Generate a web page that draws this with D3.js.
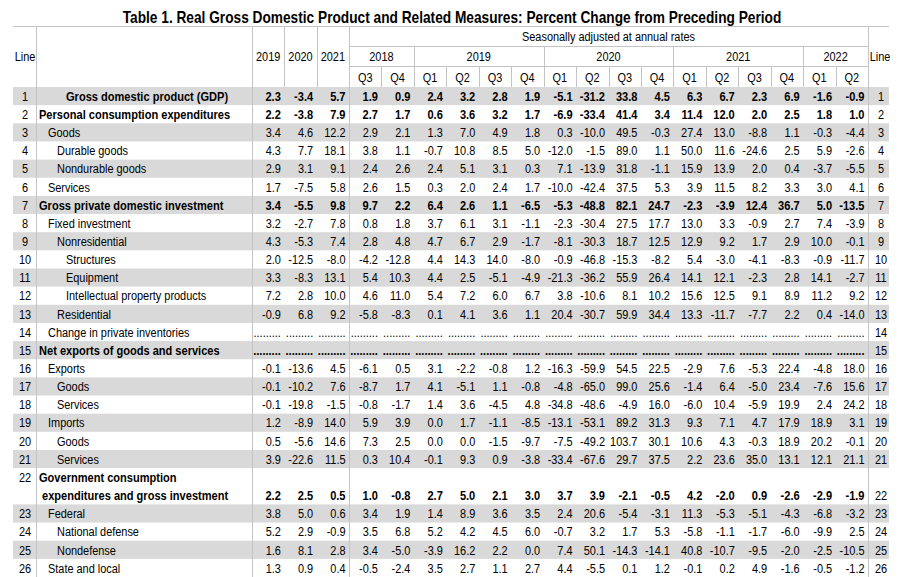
<!DOCTYPE html>
<html>
<head>
<meta charset="utf-8">
<script src="https://cdn.jsdelivr.net/npm/d3@7"></script>
<style>
    body { margin: 0; background: #fff; }
    svg { display: block; }
    text { font-family: "Liberation Sans Narrow", "Arial Narrow", "Liberation Sans", Arial, sans-serif; fill: #000; }
</style>
</head>
<body>
<div id="container"></div>
<script>
// begin data //

const titleText = 'Table 1. Real Gross Domestic Product and Related Measures: Percent Change from Preceding Period'
const subHeader = 'Seasonally adjusted at annual rates'

const annualYears = ['2019', '2020', '2021']
const quarterYears = ['2018', '2019', '2020', '2021', '2022']
const quarterPeriods = [
    '2018 Q3', '2018 Q4',
    '2019 Q1', '2019 Q2', '2019 Q3', '2019 Q4',
    '2020 Q1', '2020 Q2', '2020 Q3', '2020 Q4',
    '2021 Q1', '2021 Q2', '2021 Q3', '2021 Q4',
    '2022 Q1', '2022 Q2'
]

const rowLabels = [
    'Gross domestic product (GDP)',
    'Personal consumption expenditures',
    'Goods',
    'Durable goods',
    'Nondurable goods',
    'Services',
    'Gross private domestic investment',
    'Fixed investment',
    'Nonresidential',
    'Structures',
    'Equipment',
    'Intellectual property products',
    'Residential',
    'Change in private inventories',
    'Net exports of goods and services',
    'Exports',
    'Goods',
    'Services',
    'Imports',
    'Goods',
    'Services',
    ['Government consumption', 'expenditures and gross investment'],
    'Federal',
    'National defense',
    'Nondefense',
    'State and local'
]

// indent level of each label
const rowIndent = [3, 0, 1, 2, 2, 1, 0, 1, 2, 3, 3, 3, 2, 1, 0, 1, 2, 2, 1, 2, 2, 0, 1, 2, 2, 1]

const boldLines = [1, 2, 7, 15, 22]

const annualValues = [
    [2.3, -3.4, 5.7],
    [2.2, -3.8, 7.9],
    [3.4, 4.6, 12.2],
    [4.3, 7.7, 18.1],
    [2.9, 3.1, 9.1],
    [1.7, -7.5, 5.8],
    [3.4, -5.5, 9.8],
    [3.2, -2.7, 7.8],
    [4.3, -5.3, 7.4],
    [2.0, -12.5, -8.0],
    [3.3, -8.3, 13.1],
    [7.2, 2.8, 10.0],
    [-0.9, 6.8, 9.2],
    null,
    null,
    [-0.1, -13.6, 4.5],
    [-0.1, -10.2, 7.6],
    [-0.1, -19.8, -1.5],
    [1.2, -8.9, 14.0],
    [0.5, -5.6, 14.6],
    [3.9, -22.6, 11.5],
    [2.2, 2.5, 0.5],
    [3.8, 5.0, 0.6],
    [5.2, 2.9, -0.9],
    [1.6, 8.1, 2.8],
    [1.3, 0.9, 0.4]
]

const quarterValues = [
    [1.9, 0.9, 2.4, 3.2, 2.8, 1.9, -5.1, -31.2, 33.8, 4.5, 6.3, 6.7, 2.3, 6.9, -1.6, -0.9],
    [2.7, 1.7, 0.6, 3.6, 3.2, 1.7, -6.9, -33.4, 41.4, 3.4, 11.4, 12.0, 2.0, 2.5, 1.8, 1.0],
    [2.9, 2.1, 1.3, 7.0, 4.9, 1.8, 0.3, -10.0, 49.5, -0.3, 27.4, 13.0, -8.8, 1.1, -0.3, -4.4],
    [3.8, 1.1, -0.7, 10.8, 8.5, 5.0, -12.0, -1.5, 89.0, 1.1, 50.0, 11.6, -24.6, 2.5, 5.9, -2.6],
    [2.4, 2.6, 2.4, 5.1, 3.1, 0.3, 7.1, -13.9, 31.8, -1.1, 15.9, 13.9, 2.0, 0.4, -3.7, -5.5],
    [2.6, 1.5, 0.3, 2.0, 2.4, 1.7, -10.0, -42.4, 37.5, 5.3, 3.9, 11.5, 8.2, 3.3, 3.0, 4.1],
    [9.7, 2.2, 6.4, 2.6, 1.1, -6.5, -5.3, -48.8, 82.1, 24.7, -2.3, -3.9, 12.4, 36.7, 5.0, -13.5],
    [0.8, 1.8, 3.7, 6.1, 3.1, -1.1, -2.3, -30.4, 27.5, 17.7, 13.0, 3.3, -0.9, 2.7, 7.4, -3.9],
    [2.8, 4.8, 4.7, 6.7, 2.9, -1.7, -8.1, -30.3, 18.7, 12.5, 12.9, 9.2, 1.7, 2.9, 10.0, -0.1],
    [-4.2, -12.8, 4.4, 14.3, 14.0, -8.0, -0.9, -46.8, -15.3, -8.2, 5.4, -3.0, -4.1, -8.3, -0.9, -11.7],
    [5.4, 10.3, 4.4, 2.5, -5.1, -4.9, -21.3, -36.2, 55.9, 26.4, 14.1, 12.1, -2.3, 2.8, 14.1, -2.7],
    [4.6, 11.0, 5.4, 7.2, 6.0, 6.7, 3.8, -10.6, 8.1, 10.2, 15.6, 12.5, 9.1, 8.9, 11.2, 9.2],
    [-5.8, -8.3, 0.1, 4.1, 3.6, 1.1, 20.4, -30.7, 59.9, 34.4, 13.3, -11.7, -7.7, 2.2, 0.4, -14.0],
    null,
    null,
    [-6.1, 0.5, 3.1, -2.2, -0.8, 1.2, -16.3, -59.9, 54.5, 22.5, -2.9, 7.6, -5.3, 22.4, -4.8, 18.0],
    [-8.7, 1.7, 4.1, -5.1, 1.1, -0.8, -4.8, -65.0, 99.0, 25.6, -1.4, 6.4, -5.0, 23.4, -7.6, 15.6],
    [-0.8, -1.7, 1.4, 3.6, -4.5, 4.8, -34.8, -48.6, -4.9, 16.0, -6.0, 10.4, -5.9, 19.9, 2.4, 24.2],
    [5.9, 3.9, 0.0, 1.7, -1.1, -8.5, -13.1, -53.1, 89.2, 31.3, 9.3, 7.1, 4.7, 17.9, 18.9, 3.1],
    [7.3, 2.5, 0.0, 0.0, -1.5, -9.7, -7.5, -49.2, 103.7, 30.1, 10.6, 4.3, -0.3, 18.9, 20.2, -0.1],
    [0.3, 10.4, -0.1, 9.3, 0.9, -3.8, -33.4, -67.6, 29.7, 37.5, 2.2, 23.6, 35.0, 13.1, 12.1, 21.1],
    [1.0, -0.8, 2.7, 5.0, 2.1, 3.0, 3.7, 3.9, -2.1, -0.5, 4.2, -2.0, 0.9, -2.6, -2.9, -1.9],
    [3.4, 1.9, 1.4, 8.9, 3.6, 3.5, 2.4, 20.6, -5.4, -3.1, 11.3, -5.3, -5.1, -4.3, -6.8, -3.2],
    [3.5, 6.8, 5.2, 4.2, 4.5, 6.0, -0.7, 3.2, 1.7, 5.3, -5.8, -1.1, -1.7, -6.0, -9.9, 2.5],
    [3.4, -5.0, -3.9, 16.2, 2.2, 0.0, 7.4, 50.1, -14.3, -14.1, 40.8, -10.7, -9.5, -2.0, -2.5, -10.5],
    [-0.5, -2.4, 3.5, 2.7, 1.1, 2.7, 4.4, -5.5, 0.1, 1.2, -0.1, 0.2, 4.9, -1.6, -0.5, -1.2]
]

// end data //

const width = 905
const height = 577

const left = 13
const right = 889
const lineColRight = 36
const labelColRight = 252
const quarterLeft = 349
const quarterRight = 868

const tableTop = 26
const headerBottom = 87
const gridColor = '#c4c4c4'
const shadeColor = '#d9d9d9'
const fontSize = 13.5
// no narrow font installed, so squeeze the regular one
const narrow = 0.81
const narrowBold = 0.82

const fmt = d3.formatLocale({
    decimal: '.', thousands: ',', grouping: [3], currency: ['$', ''], minus: '-'
}).format('.1f')

// row 22 takes two text lines, so rows are laid out on "slots"
const rows = rowLabels.map((label, i) => {
    const line = i + 1
    const firstSlot = line <= 22 ? i : i + 1
    const slots = line === 22 ? 2 : 1
    return {
        line,
        label,
        indent: rowIndent[i],
        bold: boldLines.includes(line),
        annual: annualValues[i],
        quarter: quarterValues[i],
        firstSlot,
        slots,
        valueSlot: firstSlot + slots - 1
    }
})
const slotCount = d3.max(rows, (r) => r.firstSlot + r.slots)

const y = d3.scaleLinear().domain([0, slotCount]).range([headerBottom, height])
const xAnnual = d3.scaleBand().domain(annualYears).range([labelColRight, quarterLeft])
const xQuarter = d3.scaleBand().domain(quarterPeriods).range([quarterLeft, quarterRight])
const indentX = d3.scaleLinear().domain([0, 1]).range([39, 48])

const svg = d3
    .select('#container')
    .append('svg')
    .attr('width', width)
    .attr('height', height)

// put a text at x,y and squeeze it horizontally
function addText(parent, x, yy, txt, anchor = 'start', bold = false) {
    return parent.append('text')
        .attr('transform', `translate(${x},${yy}) scale(${bold ? narrowBold : narrow},1)`)
        .attr('text-anchor', anchor)
        .attr('dy', '0.35em')
        .style('font-weight', bold ? 'bold' : 'normal')
        .text(txt)
}

// title
addText(svg, 452, 17, titleText, 'middle', true)
    .style('font-size', '16.5px')
    .attr('transform', 'translate(452,17) scale(0.83,1)')

// row shading
svg.append('g')
    .selectAll('rect')
    .data(rows.filter((r) => r.line % 2 === 1))
    .join('rect')
    .attr('x', left)
    .attr('y', (d) => y(d.firstSlot))
    .attr('width', right - left)
    .attr('height', (d) => y(d.firstSlot + d.slots) - y(d.firstSlot))
    .attr('fill', shadeColor)

// grid lines
const grid = svg.append('g').attr('stroke', gridColor).attr('stroke-width', 1).attr('shape-rendering', 'crispEdges')
const hLine = (x1, x2, yy) => grid.append('line').attr('x1', x1).attr('x2', x2).attr('y1', yy).attr('y2', yy)
const vLine = (xx, y1, y2) => grid.append('line').attr('x1', xx).attr('x2', xx).attr('y1', y1).attr('y2', y2)

const yearRowTop = 46
const quarterRowTop = 66

hLine(left, right, tableTop + 0.5)
hLine(quarterLeft, quarterRight, yearRowTop + 0.5)
hLine(quarterLeft, quarterRight, quarterRowTop + 0.5)

vLine(lineColRight + 0.5, tableTop, height)
vLine(labelColRight + 0.5, tableTop, height)
vLine(quarterLeft + 0.5, tableTop, height)
vLine(quarterRight + 0.5, tableTop, height)
annualYears.slice(1).forEach((yr) => vLine(Math.round(xAnnual(yr)) + 0.5, tableTop, headerBottom))

// year groups over the quarters
const yearGroups = quarterYears.map((yr) => {
    const periods = quarterPeriods.filter((p) => p.startsWith(yr))
    const x0 = xQuarter(periods[0])
    const x1 = xQuarter(periods[periods.length - 1]) + xQuarter.bandwidth()
    return { yr, x0, x1 }
})
yearGroups.slice(1).forEach((g) => vLine(Math.round(g.x0) + 0.5, yearRowTop, headerBottom))
quarterPeriods.forEach((p, i) => {
    if (i > 0) vLine(Math.round(xQuarter(p)) + 0.5, quarterRowTop, headerBottom)
})

// header text
const header = svg.append('g').style('font-size', fontSize + 'px')
addText(header, 25, 56, 'Line', 'middle')
addText(header, 880, 56, 'Line', 'middle')
addText(header, (quarterLeft + quarterRight) / 2, 36, subHeader, 'middle')
annualYears.forEach((yr) => addText(header, xAnnual(yr) + xAnnual.bandwidth() / 2, 56, yr, 'middle'))
yearGroups.forEach((g) => addText(header, (g.x0 + g.x1) / 2, 56, g.yr, 'middle'))
quarterPeriods.forEach((p) =>
    addText(header, xQuarter(p) + xQuarter.bandwidth() / 2, 77, p.split(' ')[1], 'middle')
)

// body rows
const slotMid = (s) => (y(s) + y(s + 1)) / 2
const body = svg.append('g').style('font-size', fontSize + 'px')
const dots = '.........'

rows.forEach((d) => {
    const g = body.append('g')

    // line numbers, left and right
    addText(g, 25, slotMid(d.firstSlot), d.line, 'middle')
    addText(g, 881, slotMid(d.valueSlot), d.line, 'middle')

    // label
    const lines = Array.isArray(d.label) ? d.label : [d.label]
    lines.forEach((txt, k) => {
        addText(g, k === 0 ? indentX(d.indent) : 42, slotMid(d.firstSlot + k), txt, 'start', d.bold)
    })

    // values
    const yy = slotMid(d.valueSlot)
    annualYears.forEach((yr, j) => {
        addText(g, xAnnual(yr) + xAnnual.bandwidth() - 3.5, yy,
            d.annual ? fmt(d.annual[j]) : dots, 'end', d.bold)
    })
    quarterPeriods.forEach((p, j) => {
        addText(g, xQuarter(p) + xQuarter.bandwidth() - 3.5, yy,
            d.quarter ? fmt(d.quarter[j]) : dots, 'end', d.bold)
    })
})
</script>
</body>
</html>
